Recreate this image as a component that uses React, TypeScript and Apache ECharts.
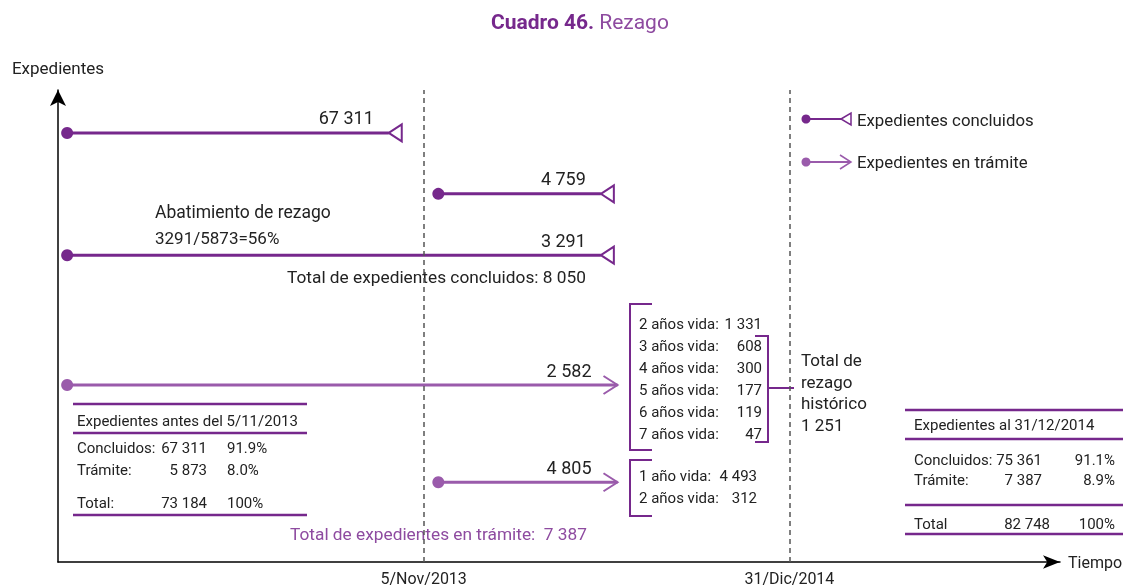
import React, { useEffect, useRef } from "react";
import * as echarts from "echarts";

// ---- data ----
const timeTicks = ["", "5/Nov/2013", "31/Dic/2014"];
const flowKinds = ["concluido", "concluido", "concluido", "tramite", "tramite"];
const flowStart = [0.025, 1.04, 0.025, 0.025, 1.04];
const flowEnd = [0.94, 1.52, 1.52, 1.53, 1.53];
const flowLane = [9.09, 7.8, 6.5, 3.75, 1.69];
const flowValues = [67311, 4759, 3291, 2582, 4805];

const rezagoYears = ["2 años vida:", "3 años vida:", "4 años vida:", "5 años vida:", "6 años vida:", "7 años vida:"];
const rezagoValues = [1331, 608, 300, 177, 119, 47];
const tramiteYears = ["1 año vida:", "2 años vida:"];
const tramiteValues = [4493, 312];

const beforeLabels = ["Concluidos:", "Trámite:", "Total:"];
const beforeValues = [67311, 5873, 73184];
const beforePct = ["91.9%", "8.0%", "100%"];
const afterLabels = ["Concluidos:", "Trámite:", "Total"];
const afterValues = [75361, 7387, 82748];
const afterPct = ["91.1%", "8.9%", "100%"];

const totalConcluidos = 8050;
const totalTramite = 7387;
const totalRezago = 1251;

const DARK = "#76288C";
const LIGHT = "#9A5BAB";
const TEXT = "#222";
const FONT = "Roboto";

const fmt = (n: number) => n.toString().replace(/\B(?=(\d{3})+(?!\d))/g, " ");

function txt(text: string, x: number, y: number, size: number, opts: any = {}) {
  const align = opts.align || "left";
  return {
    type: "text",
    x,
    y,
    silent: true,
    style: {
      text,
      fill: opts.fill || TEXT,
      fontSize: size,
      fontFamily: FONT,
      fontWeight: opts.weight || "normal",
      align,
      textAlign: align,
      verticalAlign: "middle",
      textVerticalAlign: "middle",
    },
  };
}

function pl(points: number[][], color: string, w: number) {
  return {
    type: "polyline",
    silent: true,
    shape: { points },
    style: { stroke: color, lineWidth: w, fill: "none" },
  };
}

export default function App() {
  const ref = useRef<HTMLDivElement>(null);
  useEffect(() => {
    if (!ref.current) return;
    const chart = echarts.init(ref.current, undefined, { renderer: "svg" });

    const graphics: any[] = [];
    // annotations
    graphics.push(txt("Abatimiento de rezago", 155, 212, 17.5));
    graphics.push(txt("3291/5873=56%", 155, 238, 17));
    graphics.push(txt("Total de expedientes concluidos: " + fmt(totalConcluidos), 287, 277, 17.3));
    graphics.push(txt("Total de expedientes en trámite:  " + fmt(totalTramite), 290, 534, 17.3, { fill: "#8E4BA0" }));

    // bracket 1
    graphics.push(pl([[652, 304], [630, 304], [630, 450], [652, 450]], DARK, 2));
    rezagoYears.forEach((l, i) => {
      const y = 324 + i * 22;
      graphics.push(txt(l, 639, y, 15));
      graphics.push(txt(fmt(rezagoValues[i]), 762, y, 15, { align: "right" }));
    });
    graphics.push(pl([[755, 336], [768, 336], [768, 442], [755, 442]], DARK, 2));
    graphics.push(pl([[768, 388], [794, 388]], DARK, 2));
    ["Total de", "rezago", "histórico", fmt(totalRezago)].forEach((l, i) =>
      graphics.push(txt(l, 801, 360 + i * 21.7, 17))
    );
    // bracket 2
    graphics.push(pl([[652, 460], [630, 460], [630, 516], [652, 516]], DARK, 2));
    tramiteYears.forEach((l, i) => {
      const y = 476 + i * 22;
      graphics.push(txt(l, 639, y, 15));
      graphics.push(txt(fmt(tramiteValues[i]), 757, y, 15, { align: "right" }));
    });

    // left table
    graphics.push(pl([[73, 404], [307, 404]], DARK, 2.5));
    graphics.push(txt("Expedientes antes del 5/11/2013", 77, 421, 15));
    graphics.push(pl([[73, 433], [307, 433]], DARK, 2.5));
    [448, 470, 503].forEach((y, i) => {
      graphics.push(txt(beforeLabels[i], 77, y, 15));
      graphics.push(txt(fmt(beforeValues[i]), 207, y, 15, { align: "right" }));
      graphics.push(txt(beforePct[i], 227, y, 15));
    });
    graphics.push(pl([[73, 515], [307, 515]], DARK, 2.5));

    // right table
    graphics.push(pl([[905, 410], [1123, 410]], DARK, 2.5));
    graphics.push(txt("Expedientes al 31/12/2014", 914, 425, 15));
    graphics.push(pl([[905, 439], [1123, 439]], DARK, 2.5));
    [460, 480, 524].forEach((y, i) => {
      graphics.push(txt(afterLabels[i], 914, y, 15));
      graphics.push(txt(fmt(afterValues[i]), i === 2 ? 1050 : 1042, y, 15, { align: "right" }));
      graphics.push(txt(afterPct[i], 1115, y, 15, { align: "right" }));
    });
    graphics.push(pl([[905, 505], [1123, 505]], DARK, 2.5));
    graphics.push(pl([[905, 534], [1123, 534]], DARK, 2.5));

    // legend
    graphics.push({ type: "line", silent: true, shape: { x1: 806, y1: 119, x2: 841, y2: 119 }, style: { stroke: DARK, lineWidth: 2 } });
    graphics.push({ type: "circle", silent: true, shape: { cx: 806, cy: 119, r: 4.5 }, style: { fill: DARK } });
    graphics.push({ type: "polygon", silent: true, shape: { points: [[841, 119], [851, 113], [851, 125]] }, style: { fill: "#fff", stroke: DARK, lineWidth: 1.5 } });
    graphics.push(txt("Expedientes concluidos", 857, 120, 16.8));
    graphics.push({ type: "line", silent: true, shape: { x1: 806, y1: 162, x2: 851, y2: 162 }, style: { stroke: LIGHT, lineWidth: 2 } });
    graphics.push({ type: "circle", silent: true, shape: { cx: 806, cy: 162, r: 4.5 }, style: { fill: LIGHT } });
    graphics.push(pl([[840, 155], [851, 162], [840, 169]], LIGHT, 1.5));
    graphics.push(txt("Expedientes en trámite", 857, 162, 16.8));

    const data = flowStart.map((s, i) => [s, flowEnd[i], flowLane[i], flowValues[i]]);

    chart.setOption({
      animation: false,
      title: {
        text: "{b|Cuadro 46.} {n|Rezago}",
        left: 486,
        top: 6,
        textStyle: {
          fontWeight: "normal",
          rich: {
            b: { fontFamily: FONT, fontSize: 21, fontWeight: "bold", color: DARK },
            n: { fontFamily: FONT, fontSize: 21, fontWeight: "normal", color: "#8E4BA0" },
          },
        },
      },
      grid: { left: 58, right: 67, top: 90, bottom: 24 },
      xAxis: {
        type: "value",
        min: 0,
        max: 2.74,
        interval: 1,
        name: "Tiempo",
        nameLocation: "end",
        nameGap: 8,
        nameTextStyle: { fontFamily: FONT, fontSize: 16, color: TEXT, verticalAlign: "middle" },
        axisLine: { show: true, lineStyle: { color: "#000", width: 1.5 }, symbol: ["none", "arrow"], symbolSize: [10, 17] },
        axisTick: { show: false },
        splitLine: { show: false },
        axisLabel: {
          margin: 8,
          fontFamily: FONT,
          fontSize: 16,
          color: TEXT,
          showMaxLabel: false,
          formatter: (v: number) => (Math.abs(v - Math.round(v)) < 1e-6 ? timeTicks[Math.round(v)] || "" : ""),
        },
      },
      yAxis: {
        type: "value",
        min: 0,
        max: 10,
        name: "Expedientes",
        nameLocation: "end",
        nameGap: 14,
        nameTextStyle: { fontFamily: FONT, fontSize: 17, color: TEXT },
        axisLine: { show: true, lineStyle: { color: "#000", width: 1.5 }, symbol: ["none", "arrow"], symbolSize: [12, 16] },
        axisTick: { show: false },
        axisLabel: { show: false },
        splitLine: { show: false },
      },
      graphic: { elements: graphics },
      series: [
        {
          type: "line",
          data: [],
          silent: true,
          markLine: {
            silent: true,
            symbol: ["none", "none"],
            label: { show: false },
            lineStyle: { color: "#555", width: 1.5, type: [5, 4] },
            data: [{ xAxis: 1 }, { xAxis: 2 }],
          },
        },
        {
          type: "custom",
          coordinateSystem: "cartesian2d",
          clip: false,
          silent: true,
          encode: { x: [0, 1], y: 2 },
          data,
          renderItem: (params: any, api: any) => {
            const i = params.dataIndex;
            const p0 = api.coord([api.value(0), api.value(2)]);
            const p1 = api.coord([api.value(1), api.value(2)]);
            const y = p0[1];
            const conc = flowKinds[i] === "concluido";
            const color = conc ? DARK : LIGHT;
            const endX = p1[0];
            const lineEnd = conc ? endX - 13 : endX;
            const children: any[] = [
              { type: "line", shape: { x1: p0[0], y1: y, x2: lineEnd, y2: y }, style: { stroke: color, lineWidth: 3 } },
              { type: "circle", shape: { cx: p0[0], cy: y, r: 6 }, style: { fill: color } },
            ];
            if (conc) {
              children.push({
                type: "polygon",
                shape: { points: [[endX - 13, y], [endX, y - 8.5], [endX, y + 8.5]] },
                style: { fill: "#fff", stroke: color, lineWidth: 2 },
              });
            } else {
              children.push({
                type: "polyline",
                shape: { points: [[endX - 14, y - 9], [endX, y], [endX - 14, y + 9]] },
                style: { fill: "none", stroke: color, lineWidth: 2 },
              });
            }
            children.push({
              type: "text",
              style: {
                text: fmt(api.value(3)),
                x: endX - (conc ? 28 : 26),
                y: y - 15,
                fill: TEXT,
                fontSize: 18,
                fontFamily: FONT,
                align: "right",
                verticalAlign: "middle",
              },
            });
            return { type: "group", children };
          },
        },
      ],
    });
    return () => chart.dispose();
  }, []);
  return <div ref={ref} style={{ position: "fixed", left: 0, top: 0, width: 1127, height: 586 }} />;
}
